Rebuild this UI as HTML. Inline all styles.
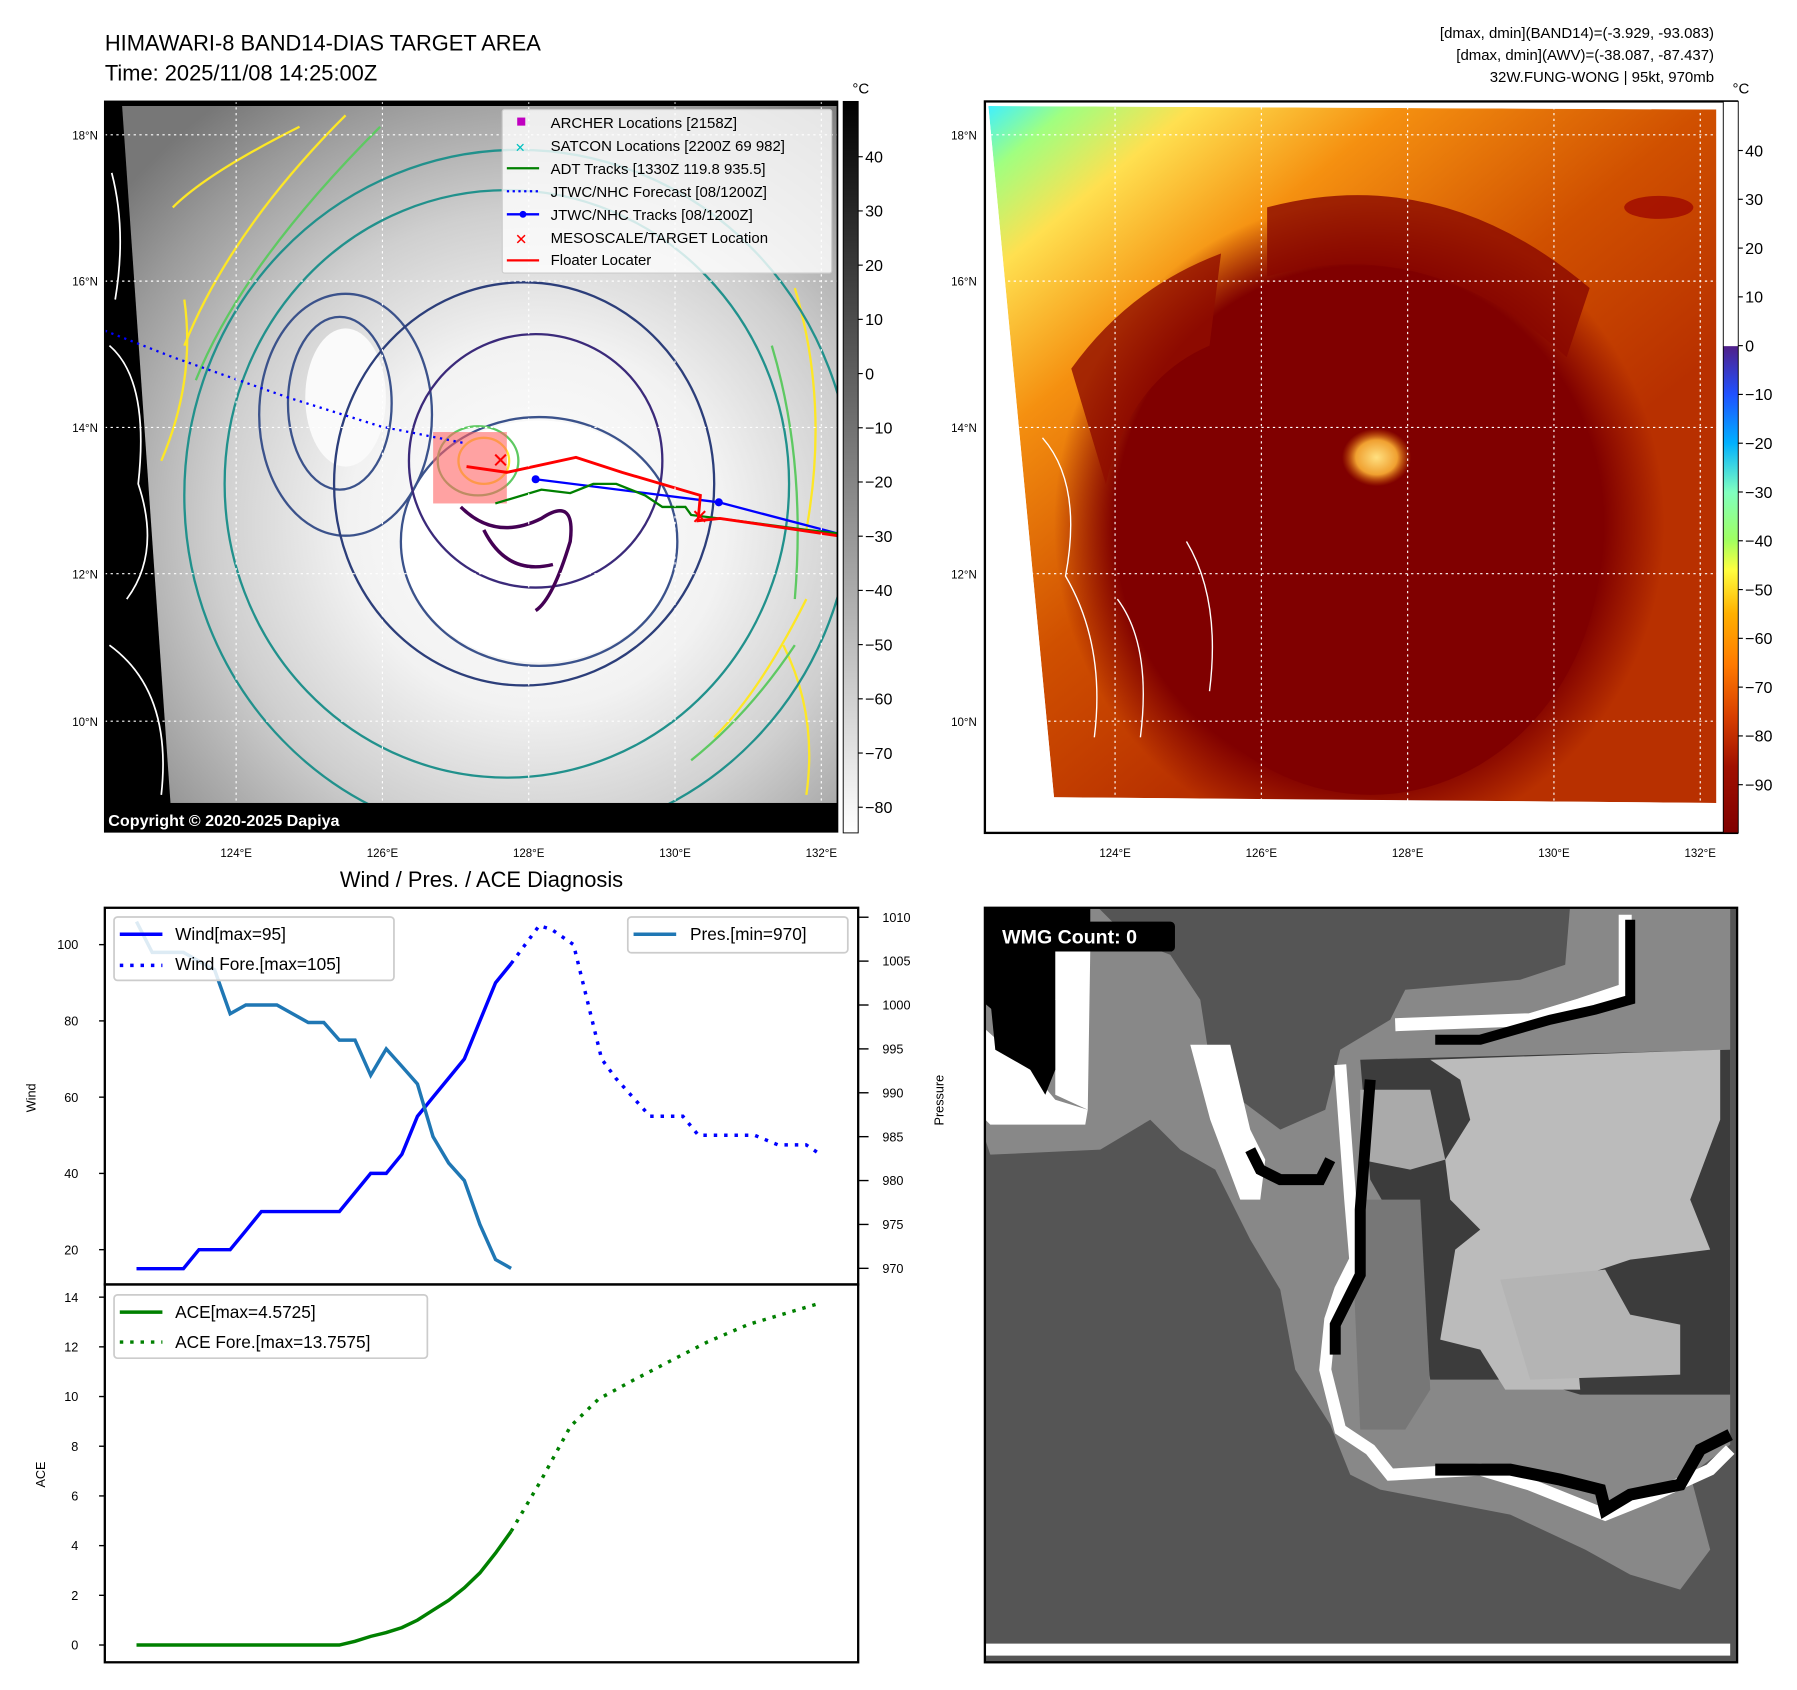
<!DOCTYPE html>
<html><head><meta charset="utf-8"><style>
html,body{margin:0;padding:0;background:#fff;}
svg{display:block;font-family:"Liberation Sans","DejaVu Sans",sans-serif;}
</style></head><body>
<svg id="root" width="1797" height="1690" viewBox="0 0 1560 1467" xmlns="http://www.w3.org/2000/svg">
<defs>
<radialGradient id="irg" cx="0.58" cy="0.6" r="0.75">
<stop offset="0" stop-color="#ffffff"/><stop offset="0.35" stop-color="#f2f2f2"/><stop offset="0.6" stop-color="#cfcfcf"/><stop offset="0.85" stop-color="#9a9a9a"/><stop offset="1" stop-color="#777"/></radialGradient>
<linearGradient id="cbg" x1="0" y1="0" x2="0" y2="1"><stop offset="0" stop-color="#000"/><stop offset="1" stop-color="#fff"/></linearGradient>
<linearGradient id="cbr" x1="0" y1="0" x2="0" y2="1">
<stop offset="0" stop-color="#fff"/><stop offset="0.334" stop-color="#fff"/><stop offset="0.335" stop-color="#50208a"/>
<stop offset="0.40" stop-color="#2050ff"/><stop offset="0.467" stop-color="#00b0ff"/><stop offset="0.534" stop-color="#80ffc0"/>
<stop offset="0.60" stop-color="#a0ff60"/><stop offset="0.64" stop-color="#ffff40"/><stop offset="0.70" stop-color="#ffb000"/>
<stop offset="0.77" stop-color="#ff7a00"/><stop offset="0.84" stop-color="#d84000"/><stop offset="0.91" stop-color="#a01000"/><stop offset="1" stop-color="#800000"/></linearGradient>
<linearGradient id="sat" x1="0" y1="0" x2="0.6" y2="0.7">
<stop offset="0" stop-color="#40f0ff"/><stop offset="0.08" stop-color="#a0ff80"/><stop offset="0.2" stop-color="#ffe050"/><stop offset="0.4" stop-color="#f59010"/><stop offset="0.7" stop-color="#d05000"/><stop offset="1" stop-color="#b83000"/></linearGradient>
<radialGradient id="core" cx="0.5" cy="0.5" r="0.5"><stop offset="0" stop-color="#800000"/><stop offset="0.8" stop-color="#800000"/><stop offset="1" stop-color="#800000" stop-opacity="0"/></radialGradient>
<radialGradient id="eyeb" cx="0.5" cy="0.5" r="0.5"><stop offset="0" stop-color="#ffe080"/><stop offset="0.6" stop-color="#f0a030"/><stop offset="1" stop-color="#d06000" stop-opacity="0"/></radialGradient>
<clipPath id="clipL"><rect x="91" y="88" width="636" height="634"/></clipPath>
<clipPath id="clipR"><polygon points="858,92 1490,95 1490,697 915,692"/></clipPath>
<clipPath id="clipB"><rect x="855" y="788" width="653" height="655"/></clipPath>
</defs>

<text x="91" y="44" font-size="19">HIMAWARI-8 BAND14-DIAS TARGET AREA</text>
<text x="91" y="70" font-size="19">Time: 2025/11/08 14:25:00Z</text>
<g font-size="13" text-anchor="end">
<text x="1488" y="33">[dmax, dmin](BAND14)=(-3.929, -93.083)</text>
<text x="1488" y="52">[dmax, dmin](AWV)=(-38.087, -87.437)</text>
<text x="1488" y="71">32W.FUNG-WONG | 95kt, 970mb</text>
</g>

<g clip-path="url(#clipL)">
<rect x="91" y="88" width="636" height="634" fill="#000"/>
<polygon points="106,92 727,92 727,697 148,697" fill="url(#irg)"/>
<ellipse cx="468" cy="470" rx="120" ry="105" fill="#fff"/>
<ellipse cx="300" cy="345" rx="35" ry="60" fill="#fafafa"/>
<g fill="none" stroke-width="2">
<path d="M150,180 Q180,150 260,110 M160,300 Q200,200 300,100 M140,400 Q170,330 160,260 M690,250 Q720,350 700,460 M680,560 Q710,620 700,690 M620,640 Q660,600 700,520" stroke="#fde725"/>
<path d="M170,330 Q210,230 330,110 M670,300 Q700,400 690,520 M600,660 Q650,620 690,560" stroke="#5ec962"/>
<ellipse cx="450" cy="430" rx="290" ry="300" stroke="#21918c"/>
<ellipse cx="440" cy="420" rx="245" ry="255" stroke="#21918c"/>
<ellipse cx="300" cy="360" rx="75" ry="105" stroke="#3b528b"/>
<ellipse cx="295" cy="350" rx="45" ry="75" stroke="#3b528b"/>
<ellipse cx="455" cy="420" rx="165" ry="175" stroke="#2c3e7a"/>
<ellipse cx="468" cy="470" rx="120" ry="108" stroke="#3b528b"/>
<ellipse cx="465" cy="400" rx="110" ry="110" stroke="#3b2a7a"/>
<path d="M400,440 Q430,470 470,450 Q500,430 495,470 Q480,520 465,530 M420,460 Q440,500 480,490" stroke="#440154" stroke-width="3"/>
<ellipse cx="415" cy="400" rx="35" ry="30" stroke="#5ec962"/>
<ellipse cx="420" cy="400" rx="22" ry="20" stroke="#fde725"/>
</g>
<path d="M97,150 Q110,200 100,260 M95,300 Q130,330 120,420 Q140,480 110,520 M95,560 Q150,600 140,690" fill="none" stroke="#fff" stroke-width="1.5"/>
<rect x="376" y="375" width="64" height="62" fill="#ff6464" fill-opacity="0.6"/>
<polyline points="91,287 150,310 250,345 330,370 405,385" fill="none" stroke="#0000ff" stroke-width="2" stroke-dasharray="2,4"/>
<polyline points="465,416 624,436 727,463" fill="none" stroke="#0000ff" stroke-width="2"/>
<circle cx="465" cy="416" r="3.5" fill="#00f"/><circle cx="624" cy="436" r="3.5" fill="#00f"/>
<polyline points="430,437 470,425 495,428 515,420 535,420 560,430 575,440 595,440 600,447 640,452 700,460 727,463" fill="none" stroke="#008000" stroke-width="2"/>
<polyline points="405,405 440,410 500,397 540,410 608,430 606,452 625,450 680,458 727,465" fill="none" stroke="#ff0000" stroke-width="2.5"/>
<text x="427" y="406" font-size="18" fill="#f00" font-weight="bold">✕</text>
<text x="600" y="455" font-size="18" fill="#f00" font-weight="bold">✕</text>
<g stroke="#fff" stroke-width="1" stroke-dasharray="2,3">
<line x1="91" y1="117" x2="727" y2="117"/><line x1="91" y1="244" x2="727" y2="244"/><line x1="91" y1="371" x2="727" y2="371"/><line x1="91" y1="498" x2="727" y2="498"/><line x1="91" y1="626" x2="727" y2="626"/>
<line x1="205" y1="88" x2="205" y2="722"/><line x1="332" y1="88" x2="332" y2="722"/><line x1="459" y1="88" x2="459" y2="722"/><line x1="586" y1="88" x2="586" y2="722"/><line x1="713" y1="88" x2="713" y2="722"/>
</g>
<rect x="91" y="697" width="636" height="26" fill="#000"/>
<text x="94" y="717" font-size="14" font-weight="bold" fill="#fff">Copyright © 2020-2025 Dapiya</text>
</g>
<g font-size="13">
<rect x="436" y="95" width="286" height="142" fill="#fff" fill-opacity="0.8" stroke="#ccc" rx="2"/>
<rect x="449" y="102" width="7" height="7" fill="#c000c0"/><text x="478" y="111">ARCHER Locations [2158Z]</text>
<text x="447" y="132" font-size="11" fill="#00c0c0" font-weight="bold">✕</text><text x="478" y="131">SATCON Locations [2200Z 69 982]</text>
<line x1="440" y1="146" x2="468" y2="146" stroke="#008000" stroke-width="2"/><text x="478" y="151">ADT Tracks [1330Z 119.8 935.5]</text>
<line x1="440" y1="166" x2="468" y2="166" stroke="#00f" stroke-width="2" stroke-dasharray="2,3"/><text x="478" y="171">JTWC/NHC Forecast [08/1200Z]</text>
<line x1="440" y1="186" x2="468" y2="186" stroke="#00f" stroke-width="2"/><circle cx="454" cy="186" r="3" fill="#00f"/><text x="478" y="191">JTWC/NHC Tracks [08/1200Z]</text>
<text x="447" y="212" font-size="13" fill="#f00" font-weight="bold">✕</text><text x="478" y="211">MESOSCALE/TARGET Location</text>
<line x1="440" y1="226" x2="468" y2="226" stroke="#f00" stroke-width="2"/><text x="478" y="230">Floater Locater</text>
</g>
<rect x="91" y="88" width="636" height="634" fill="none" stroke="#000" stroke-width="1.5"/>
<g font-size="10" text-anchor="end">
<text x="85" y="121">18°N</text><text x="85" y="248">16°N</text><text x="85" y="375">14°N</text><text x="85" y="502">12°N</text><text x="85" y="630">10°N</text></g>
<g font-size="10" text-anchor="middle">
<text x="205" y="744">124°E</text><text x="332" y="744">126°E</text><text x="459" y="744">128°E</text><text x="586" y="744">130°E</text><text x="713" y="744">132°E</text></g>
<g>
<rect x="732" y="88" width="13" height="635" fill="url(#cbg)" stroke="#000" stroke-width="0.8"/>
<text x="740" y="81" font-size="13">°C</text>
<g id="cbl" font-size="14"></g>
</g>

<g>
<g clip-path="url(#clipR)">
<polygon points="858,92 1490,95 1490,697 915,692" fill="url(#sat)"/>
<ellipse cx="1180" cy="455" rx="265" ry="280" fill="url(#core)"/>
<ellipse cx="1190" cy="470" rx="200" ry="220" fill="#800000"/>
<path d="M1100,180 Q1250,140 1380,250 L1360,310 Q1240,200 1100,240 Z" fill="#8a0800" opacity="0.8"/>
<path d="M930,320 Q980,250 1060,220 L1050,300 Q980,330 960,420 Z" fill="#900c00" opacity="0.8"/>
<ellipse cx="1440" cy="180" rx="30" ry="10" fill="#900" opacity="0.7"/>
<ellipse cx="1195" cy="397" rx="30" ry="25" fill="url(#eyeb)"/>
<path d="M905,380 Q940,420 925,500 Q960,560 950,640 M970,520 Q1000,560 990,640 M1030,470 Q1060,520 1050,600" fill="none" stroke="#fff" stroke-width="1.2"/>
</g>
<g stroke="#fff" stroke-width="1" stroke-dasharray="2,3">
<line x1="855" y1="117" x2="1508" y2="117"/><line x1="855" y1="244" x2="1508" y2="244"/><line x1="855" y1="371" x2="1508" y2="371"/><line x1="855" y1="498" x2="1508" y2="498"/><line x1="855" y1="626" x2="1508" y2="626"/>
<line x1="968" y1="88" x2="968" y2="700"/><line x1="1095" y1="88" x2="1095" y2="700"/><line x1="1222" y1="88" x2="1222" y2="700"/><line x1="1349" y1="88" x2="1349" y2="700"/><line x1="1476" y1="88" x2="1476" y2="700"/>
</g>
</g>
<rect x="855" y="88" width="653" height="635" fill="none" stroke="#000" stroke-width="2"/>
<g font-size="10" text-anchor="end">
<text x="848" y="121">18°N</text><text x="848" y="248">16°N</text><text x="848" y="375">14°N</text><text x="848" y="502">12°N</text><text x="848" y="630">10°N</text></g>
<g font-size="10" text-anchor="middle">
<text x="968" y="744">124°E</text><text x="1095" y="744">126°E</text><text x="1222" y="744">128°E</text><text x="1349" y="744">130°E</text><text x="1476" y="744">132°E</text></g>
<g>
<rect x="1496" y="88" width="13" height="635" fill="url(#cbr)" stroke="#000" stroke-width="0.8"/>
<text x="1504" y="81" font-size="13">°C</text>
<g id="cbr-l" font-size="14"></g>
</g>

<g clip-path="url(#clipB)">
<rect x="855" y="788" width="653" height="655" fill="#555"/>
<g transform="translate(851,781) scale(0.434)">
<polygon points="0,10 1500,10 1500,1090 1420,1150 1460,1300 1400,1380 1300,1350 1210,1300 1060,1230 800,1180 740,1150 700,1050 630,940 600,780 540,680 470,540 400,500 340,440 240,500 20,510 0,450" fill="#888"/>
<polygon points="230,10 1180,10 1170,130 1080,160 850,180 820,240 720,300 690,420 600,460 520,400 460,330 440,200 380,110 300,80" fill="#555"/>
<polygon points="0,10 220,10 220,100 170,100 150,200 60,250 0,200" fill="#000"/>
<polygon points="0,250 100,340 150,400 215,420 210,450 20,450 0,430" fill="#fff"/>
<polygon points="150,100 220,100 215,420 150,390" fill="#fff"/>
<polygon points="20,200 150,200 150,340 130,390 100,340 30,300" fill="#000"/>
<polygon points="420,290 500,290 540,460 570,520 560,600 520,600 490,520 460,440" fill="#fff"/>
<polygon points="760,320 1500,300 1500,990 1200,990 1100,960 900,960 860,700 780,560" fill="#3c3c3c"/>
<polygon points="900,320 1480,300 1480,440 1420,600 1460,700 1300,720 1180,760 1200,980 1050,980 1000,900 920,880 950,700 1000,660 940,600 930,520 980,440 960,360" fill="#bbb"/>
<polygon points="760,380 900,380 930,520 860,540 760,520" fill="#aaa"/>
<polygon points="1040,760 1250,740 1300,830 1400,850 1400,950 1100,960" fill="#b4b4b4"/>
<polygon points="740,600 880,600 900,980 850,1060 760,1060" fill="#777"/>
<polyline points="720,330 740,600 750,720 720,780 700,840 690,940 720,1060 780,1100 820,1150 1000,1140 1100,1170 1250,1230 1350,1190 1460,1140 1500,1100" fill="none" stroke="#fff" stroke-width="24"/>
<polyline points="780,360 760,620 760,750 710,850 710,910" fill="none" stroke="#000" stroke-width="22"/>
<polyline points="830,250 1100,240 1200,210 1290,180 1290,30" fill="none" stroke="#fff" stroke-width="26"/>
<polyline points="910,280 1000,280 1140,240 1230,220 1300,200 1300,40" fill="none" stroke="#000" stroke-width="20"/>
<polyline points="540,500 560,540 600,560 680,560 700,520" fill="none" stroke="#000" stroke-width="22"/>
<polyline points="910,1140 1060,1140 1160,1160 1240,1180 1250,1220 1300,1190 1400,1170 1440,1100 1500,1070" fill="none" stroke="#000" stroke-width="24"/>
<rect x="0" y="1488" width="1500" height="24" fill="#fff"/>
</g>
</g>
<rect x="855" y="788" width="653" height="655" fill="none" stroke="#000" stroke-width="2"/>
<rect x="863" y="800" width="157" height="26" rx="4" fill="#000"/>
<text x="870" y="819" font-size="17" font-weight="bold" fill="#fff">WMG Count: 0</text>

<text x="418" y="770" font-size="19" text-anchor="middle">Wind / Pres. / ACE Diagnosis</text>
<g id="chart"></g>
<rect x="91" y="788" width="654" height="327" fill="none" stroke="#000" stroke-width="2"/>
<rect x="91" y="1115" width="654" height="328" fill="none" stroke="#000" stroke-width="2"/>
<text transform="translate(31,953) rotate(-90)" font-size="11" text-anchor="middle">Wind</text>
<text transform="translate(819,955) rotate(-90)" font-size="11" text-anchor="middle">Pressure</text>
<text transform="translate(39,1280) rotate(-90)" font-size="11" text-anchor="middle">ACE</text>
<g font-size="15">
<rect x="99" y="796" width="243" height="55" fill="#fff" fill-opacity="0.85" stroke="#ccc" stroke-width="1.5" rx="3"/>
<line x1="104" y1="811" x2="141" y2="811" stroke="#00f" stroke-width="3"/><text x="152" y="816">Wind[max=95]</text>
<line x1="104" y1="838" x2="141" y2="838" stroke="#00f" stroke-width="3" stroke-dasharray="3,6"/><text x="152" y="842">Wind Fore.[max=105]</text>
</g>
<g font-size="15">
<rect x="545" y="796" width="191" height="31" fill="#fff" fill-opacity="0.85" stroke="#ccc" stroke-width="1.5" rx="3"/>
<line x1="550" y1="811" x2="587" y2="811" stroke="#1f77b4" stroke-width="3"/><text x="599" y="816">Pres.[min=970]</text>
</g>
<g font-size="15">
<rect x="99" y="1124" width="272" height="55" fill="#fff" fill-opacity="0.85" stroke="#ccc" stroke-width="1.5" rx="3"/>
<line x1="104" y1="1139" x2="141" y2="1139" stroke="#008000" stroke-width="3"/><text x="152" y="1144">ACE[max=4.5725]</text>
<line x1="104" y1="1165" x2="141" y2="1165" stroke="#008000" stroke-width="3" stroke-dasharray="3,6"/><text x="152" y="1170">ACE Fore.[max=13.7575]</text>
</g>
</svg>
<script>
const obsIndex = [0,1,2,3,4,5,6,7,8,9,10,11,12,13,14,15,16,17,18,19,20,21,22,23,24];
const windObs = [15,15,15,15,20,20,20,25,30,30,30,30,30,30,35,40,40,45,55,60,65,70,80,90,95];
const presObs = [1009.5,1006,1006,1006,1005,1004,999,1000,1000,1000,999,998,998,996,996,992,995,993,991,985,982,980,975,971,970];
const aceObs = [0,0,0,0,0,0,0,0,0,0,0,0,0,0,0.15,0.35,0.5,0.7,1.0,1.4,1.8,2.3,2.9,3.7,4.57];
const foreWindIndex = [24,25.8,26.6,28,28.9,29.8,30.7,32.9,35,36,39.6,41.1,42.9,43.8];
const windFore = [95,105,104,100,85,70,65,55,55,50,50,47.5,47.5,45];
const foreAceIndex = [24,25.9,27.8,29.6,31.8,34.1,36.6,39.2,43.8];
const aceFore = [4.57,6.6,8.8,9.9,10.65,11.4,12.2,12.9,13.76];
const windTicks = [20,40,60,80,100];
const presTicks = [970,975,980,985,990,995,1000,1005,1010];
const aceTicks = [0,2,4,6,8,10,12,14];
const irTicks = [40,30,20,10,0,-10,-20,-30,-40,-50,-60,-70,-80];
const awvTicks = [40,30,20,10,0,-10,-20,-30,-40,-50,-60,-70,-80,-90];

const NS = 'http://www.w3.org/2000/svg';
function xS(i){ return 118.5 + i*13.55; }
function yWind(v){ return 820 + (100-v)*3.31; }
function yPres(p){ return 1101 - (p-970)*7.62; }
function yAce(a){ return 1428 - a*21.57; }
function yIr(v){ return 136 + (40-v)*4.706; }
function yAwv(v){ return 300 - v*4.235; }

function mk(tag, attrs, parent){
  const e = document.createElementNS(NS, tag);
  for (const k in attrs) e.setAttribute(k, attrs[k]);
  parent.appendChild(e);
  return e;
}
function pathD(xs, ys, fy){
  return xs.map((x,i)=>(i?'L':'M')+xS(x).toFixed(1)+','+fy(ys[i]).toFixed(1)).join(' ');
}
const chart = document.getElementById('chart');

windTicks.forEach(v=>{
  const y = yWind(v);
  const t = mk('line',{x1:86,y1:y,x2:91,y2:y,stroke:'#000','stroke-width':1.2},chart);
  
  
  const l = mk('text',{x:68,y:y+4,'font-size':11,'text-anchor':'end'},chart);
  l.textContent = v;
  
  
});
presTicks.forEach(v=>{
  const y = yPres(v);
  const t = mk('line',{x1:745,y1:y,x2:754,y2:y,stroke:'#000','stroke-width':1.2},chart);
  
  
  const l = mk('text',{x:766,y:y+4,'font-size':11},chart);
  l.textContent = v;
  
  
});
aceTicks.forEach(v=>{
  const y = yAce(v);
  const t = mk('line',{x1:86,y1:y,x2:91,y2:y,stroke:'#000','stroke-width':1.2},chart);
  
  
  const l = mk('text',{x:68,y:y+4,'font-size':11,'text-anchor':'end'},chart);
  l.textContent = v;
  
  
});

const pw = mk('path',{d:pathD(obsIndex,windObs,yWind),fill:'none',stroke:'#0000ff','stroke-width':3},chart);


const pwf = mk('path',{d:pathD(foreWindIndex,windFore,yWind),fill:'none',stroke:'#0000ff','stroke-width':3,'stroke-dasharray':'3,6'},chart);


const pp = mk('path',{d:pathD(obsIndex,presObs,yPres),fill:'none',stroke:'#1f77b4','stroke-width':3},chart);


const pa = mk('path',{d:pathD(obsIndex,aceObs,yAce),fill:'none',stroke:'#008000','stroke-width':3},chart);


const paf = mk('path',{d:pathD(foreAceIndex,aceFore,yAce),fill:'none',stroke:'#008000','stroke-width':3,'stroke-dasharray':'3,6'},chart);



const cbl = document.getElementById('cbl');
irTicks.forEach(v=>{
  const y = yIr(v);
  const t = mk('line',{x1:745,y1:y,x2:749,y2:y,stroke:'#000'},cbl);
  
  
  const l = mk('text',{x:751,y:y+5},cbl);
  l.textContent = v<0 ? '\u2212'+(-v) : v;
  
  
});
const cbr = document.getElementById('cbr-l');
awvTicks.forEach(v=>{
  const y = yAwv(v);
  const t = mk('line',{x1:1509,y1:y,x2:1513,y2:y,stroke:'#000'},cbr);
  
  
  const l = mk('text',{x:1515,y:y+5},cbr);
  l.textContent = v<0 ? '\u2212'+(-v) : v;
  
  
});
</script>
</body></html>
